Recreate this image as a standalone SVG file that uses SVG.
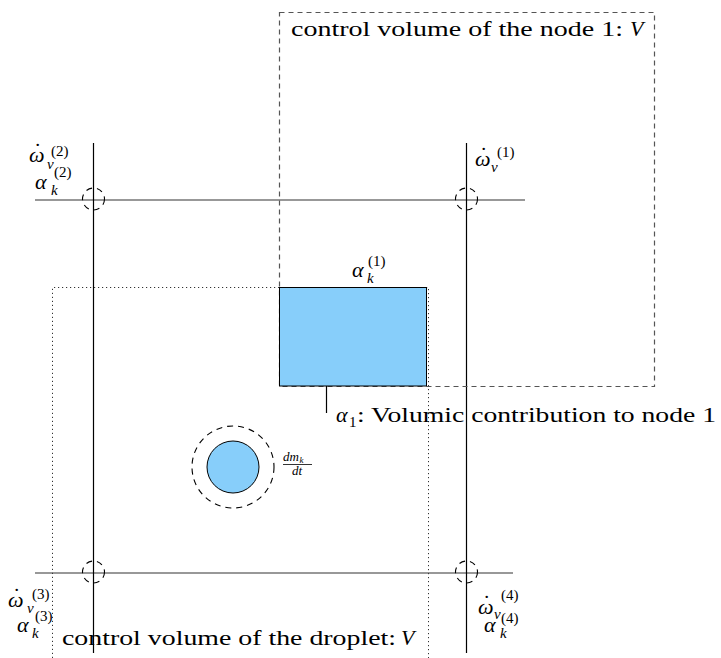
<svg xmlns="http://www.w3.org/2000/svg" width="721" height="658" viewBox="0 0 721 658">
<style>
.bg{fill:#fff}
.ln{stroke:#000;stroke-width:1.2;fill:none}
.hl{stroke:#333;stroke-width:1.2;fill:none}
.dash{stroke:#555;stroke-width:1.2;fill:none;stroke-dasharray:5 4}
.dot{stroke:#333;stroke-width:1;fill:none;stroke-dasharray:1.2 2.8}
.nc{stroke:#000;stroke-width:1.1;fill:none;stroke-dasharray:6 5}
.blue{fill:#87cefa;stroke:#000;stroke-width:1}
text{font-family:"Liberation Serif","Times New Roman",serif;fill:#000}
.t{font-size:21px}
.i{font-style:italic;font-size:22px}
.ac{font-style:normal}
.si{font-style:italic;font-size:15px}
.s{font-size:15px}
.f{font-style:italic;font-size:13px}
</style>
<rect class="bg" x="0" y="0" width="721" height="658"/>
<g id="connectors">
<line class="hl" x1="35" y1="200" x2="525" y2="200"/>
<line class="hl" x1="35" y1="573" x2="513" y2="573"/>
<line class="ln" x1="93.5" y1="143" x2="93.5" y2="653"/>
<line class="ln" x1="466.5" y1="143" x2="466.5" y2="653"/>
<line class="ln" x1="326.5" y1="386" x2="326.5" y2="413"/>
</g>
<g id="cv-node1">
<rect class="dash" x="279.5" y="12.5" width="375" height="374"/>
<text class="t" x="291" y="36" textLength="332" lengthAdjust="spacingAndGlyphs">control volume of the node 1: </text>
<text class="i" x="630" y="36">V</text>
</g>
<g id="cv-droplet">
<path class="dot" d="M52.5 658 V287.5 H428.5 V658"/>
<text class="t" x="62" y="645" textLength="334" lengthAdjust="spacingAndGlyphs">control volume of the droplet: </text>
<text class="i" x="401" y="645">V</text>
</g>
<g id="alpha1">
<rect class="blue" x="279.5" y="287.5" width="147" height="98.5"/>
<text class="i" x="352" y="277">α</text>
<text class="si" x="367" y="283">k</text>
<text class="s" x="368" y="266">(1)</text>
<text class="i" x="336" y="422">α</text>
<text class="s" x="349" y="427">1</text>
<text class="t" x="357" y="422" textLength="359" lengthAdjust="spacingAndGlyphs">: Volumic contribution to node 1</text>
</g>
<g id="droplet">
<circle class="nc" cx="233" cy="467" r="41" stroke-dasharray="7 5"/>
<circle class="blue" cx="233" cy="467" r="26"/>
<text class="f" x="283" y="461">dm<tspan font-size="9" dx="0.5" dy="2">k</tspan></text>
<line x1="283" y1="464.5" x2="312" y2="464.5" stroke="#000" stroke-width="0.8"/>
<text class="f" x="292" y="475">dt</text>
</g>
<g id="node1">
<circle class="nc" cx="466.5" cy="199" r="11"/>
<text class="i" x="475" y="166">ω<tspan class="ac" x="480" y="162">˙</tspan></text>
<text class="si" x="491" y="172">v</text>
<text class="s" x="497" y="157">(1)</text>
</g>
<g id="node2">
<circle class="nc" cx="93.5" cy="199" r="11"/>
<text class="i" x="29" y="162">ω<tspan class="ac" x="34" y="158">˙</tspan></text>
<text class="si" x="47" y="169">v</text>
<text class="s" x="51" y="156">(2)</text>
<text class="s" x="54" y="177">(2)</text>
<text class="i" x="35" y="189">α</text>
<text class="si" x="51" y="195">k</text>
</g>
<g id="node3">
<circle class="nc" cx="93.5" cy="572" r="11"/>
<text class="i" x="8" y="607">ω<tspan class="ac" x="13" y="603">˙</tspan></text>
<text class="si" x="27" y="613">v</text>
<text class="s" x="32" y="599">(3)</text>
<text class="s" x="35" y="621">(3)</text>
<text class="i" x="17" y="632">α</text>
<text class="si" x="32" y="638">k</text>
</g>
<g id="node4">
<circle class="nc" cx="466.5" cy="572" r="11"/>
<text class="i" x="478" y="614">ω<tspan class="ac" x="483" y="610">˙</tspan></text>
<text class="si" x="494" y="619">v</text>
<text class="s" x="501" y="600">(4)</text>
<text class="s" x="501" y="623">(4)</text>
<text class="i" x="484" y="632">α</text>
<text class="si" x="500" y="638">k</text>
</g>
</svg>
